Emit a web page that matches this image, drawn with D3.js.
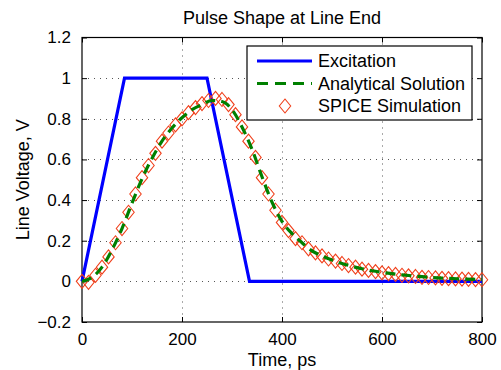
<!DOCTYPE html>
<html>
<head>
<meta charset="utf-8">
<script src="https://cdn.jsdelivr.net/npm/d3@7"></script>
<style>
  html, body { margin: 0; padding: 0; background: #fff; }
  svg text { font-family: "Liberation Sans", Arial, Helvetica, sans-serif; fill: #000; }
</style>
</head>
<body>
<div id="chart"></div>
<script>
// excitation pulse (trapezoid)
const excTime = [0, 85, 250, 335, 800];
const excVolt = [0, 1, 1, 0, 0];

// analytical solution
const anaTime = [0, 20, 40, 60, 80, 100, 120, 140, 160, 180, 200, 220, 240, 260, 280, 300, 320, 340, 360, 380,
  400, 420, 440, 460, 480, 500, 520, 540, 560, 580, 600, 640, 680, 720, 760, 800];
const anaVolt = [0, 0.02, 0.07, 0.155, 0.26, 0.385, 0.505, 0.605, 0.69, 0.755, 0.805, 0.845, 0.87, 0.89, 0.885, 0.845, 0.76, 0.65, 0.515, 0.39,
  0.295, 0.235, 0.19, 0.15, 0.125, 0.105, 0.088, 0.074, 0.062, 0.052, 0.044, 0.032, 0.023, 0.016, 0.012, 0.009];

// SPICE simulation samples
const spiceTime = [0, 13, 27, 40, 53, 67, 80, 93, 107, 120, 133, 147, 160, 173, 187, 200, 213, 227, 240, 253,
  267, 280, 293, 307, 320, 333, 347, 360, 373, 387, 400, 413, 427, 440, 453, 467, 480, 493, 507, 520,
  533, 547, 560, 573, 587, 600, 613, 627, 640, 653, 667, 680, 693, 707, 720, 733, 747, 760, 773, 787, 800];
const spiceVolt = [0, -0.005, 0.03, 0.07, 0.12, 0.19, 0.26, 0.34, 0.43, 0.51, 0.57, 0.63, 0.69, 0.73, 0.77, 0.8, 0.83, 0.855, 0.875, 0.89,
  0.9, 0.895, 0.87, 0.82, 0.76, 0.69, 0.61, 0.51, 0.43, 0.35, 0.29, 0.25, 0.21, 0.19, 0.16, 0.14, 0.125, 0.11, 0.1, 0.088,
  0.078, 0.07, 0.06, 0.054, 0.048, 0.042, 0.038, 0.034, 0.03, 0.027, 0.024, 0.02, 0.019, 0.017, 0.015, 0.013, 0.012, 0.011, 0.01, 0.009, 0.008];

const xTicks = [0, 200, 400, 600, 800];
const yTicks = [-0.2, 0, 0.2, 0.4, 0.6, 0.8, 1, 1.2];
const legendNames = ["Excitation", "Analytical Solution", "SPICE Simulation"];

const W = 501, H = 370;
const pLeft = 82, pRight = 482, pTop = 37.5, pBottom = 322;
const tickFont = 17, labelFont = 18;

const svg = d3.select("#chart").append("svg")
  .attr("width", W).attr("height", H);
svg.append("rect").attr("width", W).attr("height", H).attr("fill", "#fff");

const x = d3.scaleLinear().domain([0, 800]).range([pLeft, pRight]);
const y = d3.scaleLinear().domain([-0.2, 1.2]).range([pBottom, pTop]);

// grid
const grid = svg.append("g").attr("stroke", "#555").attr("stroke-width", 1).attr("stroke-dasharray", "1,5");
grid.selectAll("line.gx").data(xTicks.slice(1, -1)).enter().append("line")
  .attr("x1", d => Math.round(x(d)) + 0.5).attr("x2", d => Math.round(x(d)) + 0.5)
  .attr("y1", pTop).attr("y2", pBottom);
grid.selectAll("line.gy").data(yTicks.slice(1, -1)).enter().append("line")
  .attr("y1", d => Math.round(y(d)) + 0.5).attr("y2", d => Math.round(y(d)) + 0.5)
  .attr("x1", pLeft).attr("x2", pRight);

// axes, ticks pointing inward
const fmtY = d => d < 0 ? "\u2212" + Math.abs(d) : String(d);
const axB = svg.append("g").attr("transform", `translate(0,${pBottom})`)
  .call(d3.axisBottom(x).tickValues(xTicks).tickSizeInner(-5).tickSizeOuter(0).tickPadding(11));
const axT = svg.append("g").attr("transform", `translate(0,${pTop})`)
  .call(d3.axisTop(x).tickValues(xTicks).tickSizeInner(-5).tickSizeOuter(0).tickFormat(""));
const axL = svg.append("g").attr("transform", `translate(${pLeft},0)`)
  .call(d3.axisLeft(y).tickValues(yTicks).tickSizeInner(-5).tickSizeOuter(0).tickPadding(11).tickFormat(fmtY));
const axR = svg.append("g").attr("transform", `translate(${pRight},0)`)
  .call(d3.axisRight(y).tickValues(yTicks).tickSizeInner(-5).tickSizeOuter(0).tickFormat(""));
[axB, axT, axL, axR].forEach(g => {
  g.select(".domain").remove();
  g.selectAll("line").attr("stroke", "#000");
  g.selectAll("text").attr("font-size", tickFont).attr("font-family", null);
});
axB.selectAll("text").attr("dy", "0.71em");

// box
svg.append("rect").attr("x", pLeft).attr("y", pTop).attr("width", pRight - pLeft).attr("height", pBottom - pTop)
  .attr("fill", "none").attr("stroke", "#000").attr("stroke-width", 1.2);

svg.append("defs").append("clipPath").attr("id", "clip")
  .append("rect").attr("x", pLeft - 8).attr("y", pTop).attr("width", pRight - pLeft + 16).attr("height", pBottom - pTop);

const plot = svg.append("g").attr("clip-path", "url(#clip)");

const line = d3.line().x(d => x(d[0])).y(d => y(d[1]));

plot.append("path")
  .datum(excTime.map((t, i) => [t, excVolt[i]]))
  .attr("d", line)
  .attr("fill", "none").attr("stroke", "#0000ff").attr("stroke-width", 3.2).attr("stroke-linejoin", "miter");

const diamond = (cx, cy) => `M${cx},${cy - 7}L${cx + 5.7},${cy}L${cx},${cy + 7}L${cx - 5.7},${cy}Z`;

plot.selectAll("path.spice")
  .data(spiceTime.map((t, i) => [t, spiceVolt[i]]))
  .enter().append("path")
  .attr("class", "spice")
  .attr("d", d => diamond(x(d[0]), y(d[1])))
  .attr("fill", "none").attr("stroke", "#f0401c").attr("stroke-width", 1.1);

plot.append("path")
  .datum(anaTime.map((t, i) => [t, anaVolt[i]]))
  .attr("d", line.curve(d3.curveMonotoneX))
  .attr("fill", "none").attr("stroke", "#008000").attr("stroke-width", 3.2).attr("stroke-dasharray", "10,6");

// title and labels
svg.append("text").attr("x", (pLeft + pRight) / 2).attr("y", 24).attr("text-anchor", "middle")
  .attr("font-size", labelFont).text("Pulse Shape at Line End");
svg.append("text").attr("x", (pLeft + pRight) / 2).attr("y", 366).attr("text-anchor", "middle")
  .attr("font-size", labelFont).text("Time, ps");
svg.append("text").attr("transform", `translate(29,${(pTop + pBottom) / 2}) rotate(-90)`).attr("text-anchor", "middle")
  .attr("font-size", labelFont).text("Line Voltage, V");

// legend
const lg = svg.append("g");
lg.append("rect").attr("x", 247).attr("y", 46).attr("width", 225).attr("height", 74)
  .attr("fill", "#fff").attr("stroke", "#000").attr("stroke-width", 1.2);
const rowY = [61, 83.5, 106];
lg.append("line").attr("x1", 257).attr("x2", 312).attr("y1", rowY[0]).attr("y2", rowY[0])
  .attr("stroke", "#0000ff").attr("stroke-width", 3.2);
lg.append("line").attr("x1", 257).attr("x2", 312).attr("y1", rowY[1]).attr("y2", rowY[1])
  .attr("stroke", "#008000").attr("stroke-width", 3.2).attr("stroke-dasharray", "11,7");
lg.append("path").attr("d", diamond(285, rowY[2]))
  .attr("fill", "none").attr("stroke", "#f0401c").attr("stroke-width", 1.1);
lg.selectAll("text.leg").data(legendNames).enter().append("text")
  .attr("x", 318).attr("y", (d, i) => rowY[i]).attr("dy", "0.35em")
  .attr("font-size", labelFont).text(d => d);
</script>
</body>
</html>
